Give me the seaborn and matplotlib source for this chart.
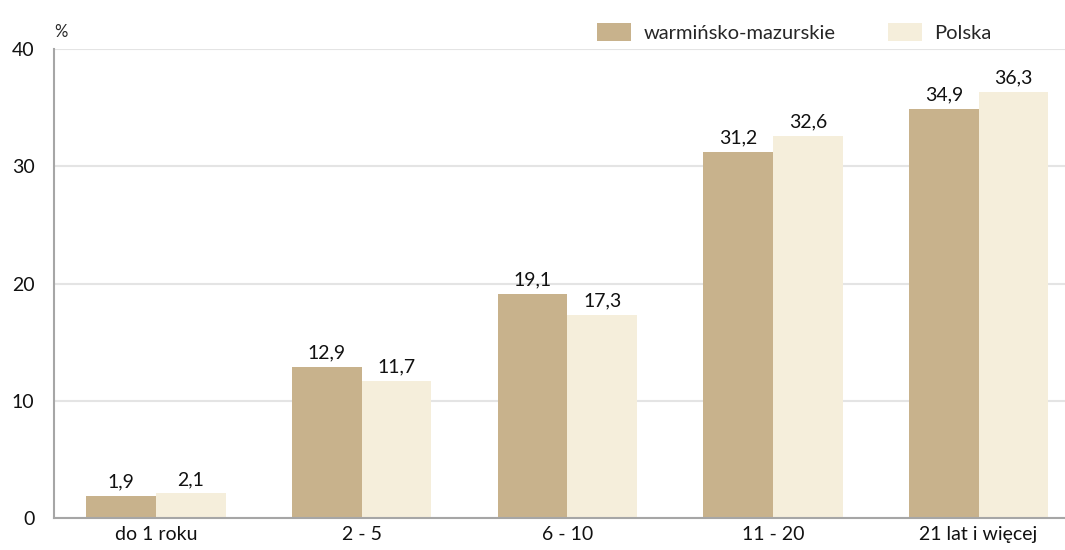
import pandas as pd
import seaborn as sns
import matplotlib.pyplot as plt

categories = ['do 1 roku', '2 - 5', '6 - 10', '11 - 20', '21 lat i więcej']
warm_maz = [1.9, 12.9, 19.1, 31.2, 34.9]
polska = [2.1, 11.7, 17.3, 32.6, 36.3]
series = ['warmińsko-mazurskie', 'Polska']
colors = ['#C8B28C', '#F5EEDB']

df = pd.DataFrame({
    'kat': categories * 2,
    'val': warm_maz + polska,
    'seria': [series[0]] * 5 + [series[1]] * 5,
})

sns.set_style('white')
plt.rcParams['font.family'] = ['Lato', 'DejaVu Sans']

fig = plt.figure(figsize=(10.65, 5.5), dpi=100)
ax = fig.add_axes([0.0507, 0.058, 0.9493, 0.853])

sns.barplot(data=df, x='kat', y='val', hue='seria', palette=colors,
            width=0.677, ax=ax, saturation=1, legend=True, linewidth=0)

for cont in ax.containers:
    ax.bar_label(cont, labels=[f'{v:.1f}'.replace('.', ',') for v in cont.datavalues],
                 padding=4, fontsize=14, color='#111111')

ax.set_ylim(0, 40)
ax.set_xlim(-0.496, 4.42)
ax.set_yticks([0, 10, 20, 30, 40])
ax.yaxis.grid(True, color='#E4E4E4', linewidth=1.5)
ax.set_axisbelow(True)
ax.tick_params(axis='both', labelsize=14, length=0, colors='#111111')
ax.tick_params(axis='y', pad=14)
ax.tick_params(axis='x', pad=6)
ax.set_xlabel('')
ax.set_ylabel('')
for s in ['top', 'right']:
    ax.spines[s].set_visible(False)
for s in ['left', 'bottom']:
    ax.spines[s].set_color('#A6A6A6')
    ax.spines[s].set_linewidth(1.5)

ax.text(0.0507, 0.928, '%', transform=fig.transFigure, fontsize=12, ha='left', va='bottom')

ax.legend(loc='upper right', bbox_to_anchor=(0.945, 1.095), ncol=2, frameon=False,
          fontsize=14.5, handlelength=1.7, handleheight=1.05, columnspacing=2.6,
          handletextpad=0.6)

fig.savefig('out.png', dpi=100)
